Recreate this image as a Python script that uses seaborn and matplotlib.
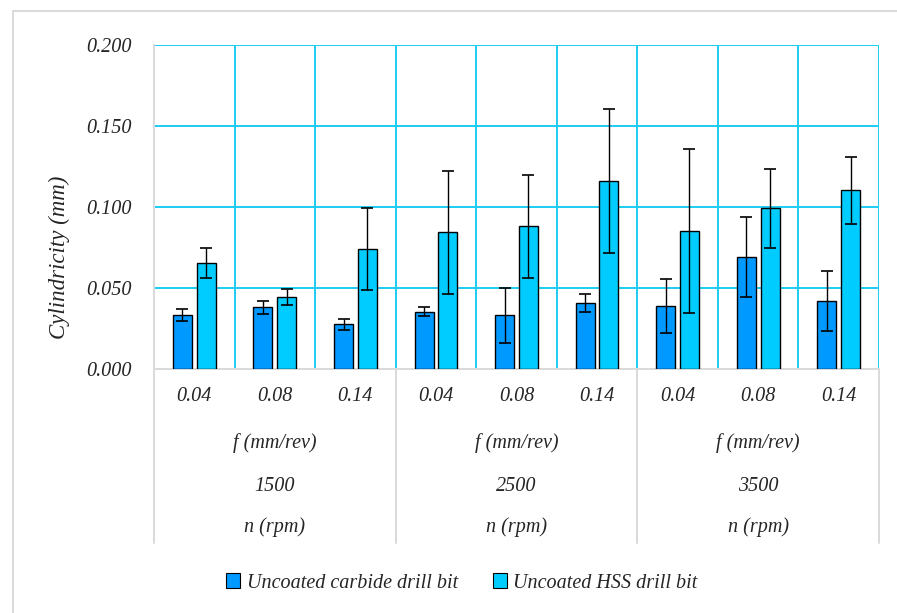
import matplotlib
matplotlib.use("Agg")
import matplotlib.pyplot as plt
import matplotlib.transforms as mtransforms
from matplotlib.patches import Patch
from matplotlib.lines import Line2D
import numpy as np
import pandas as pd
import seaborn as sns

# Spindle speed n (rpm) and feed f (mm/rev) for each test condition
speeds = ["1500", "2500", "3500"]
feeds = ["0.04", "0.08", "0.14"]

# Mean cylindricity (mm) and standard deviation per drill type
carbide = [0.0335, 0.0380, 0.0275, 0.0354, 0.0331, 0.0406, 0.0389, 0.0692, 0.0422]
carbide_err = [0.0037, 0.0038, 0.0036, 0.0027, 0.0169, 0.0057, 0.0165, 0.0247, 0.0186]
hss = [0.0652, 0.0446, 0.0738, 0.0843, 0.0880, 0.1160, 0.0850, 0.0992, 0.1103]
hss_err = [0.0093, 0.0050, 0.0253, 0.0377, 0.0318, 0.0447, 0.0507, 0.0243, 0.0207]

tools = ["Uncoated carbide drill bit", "Uncoated HSS drill bit"]
colors = ["#0099FF", "#00CCFF"]
grid_color = "#1CCCF4"
frame_color = "#D9D9D9"

conditions = [f"{n}|{f}" for n in speeds for f in feeds]
df = pd.DataFrame({
    "condition": conditions * 2,
    "tool": [tools[0]] * 9 + [tools[1]] * 9,
    "value": carbide + hss,
    "err": carbide_err + hss_err,
})

sns.set_theme(style="white")
plt.rcParams["font.family"] = ["Liberation Serif", "DejaVu Serif"]
plt.rcParams["font.style"] = "italic"

fs = 14.5

fig = plt.figure(figsize=(8.97, 6.13), dpi=100)
ax = fig.add_axes([154 / 897, 1 - 369 / 613, (879 - 154) / 897, (369 - 45) / 613])

sns.barplot(data=df, x="condition", y="value", hue="tool", order=conditions,
            hue_order=tools, palette=colors, width=0.59, gap=0.2,
            errorbar=None, edgecolor="black", linewidth=1.0, legend=False,
            saturation=1, ax=ax, zorder=3)

# Error bars centred on each drawn bar
for cont, errs in zip(ax.containers, [carbide_err, hss_err]):
    xs = [p.get_x() + p.get_width() / 2 for p in cont.patches]
    ys = [p.get_height() for p in cont.patches]
    ax.errorbar(xs, ys, yerr=errs, fmt="none", ecolor="black",
                elinewidth=1.0, capsize=4.5, capthick=1.2, zorder=4)

ax.set_xlim(-0.5, 8.5)
ax.set_ylim(0, 0.2)
yt = np.arange(0, 0.201, 0.05)
ax.set_yticks(yt)
ax.set_yticklabels([f"{v:.3f}" for v in yt], fontsize=fs)
ax.set_ylabel("Cylindricity (mm)", fontsize=16.5)
ax.yaxis.set_label_coords(-0.116, 0.346)
ax.set_xlabel("")

# Gridlines: horizontal at y ticks, vertical at category boundaries
for y in yt[1:]:
    ax.axhline(y, color=grid_color, lw=1.4, zorder=1)
for xb in np.arange(0.5, 8.6, 1.0):
    ax.axvline(xb, color=grid_color, lw=1.4, zorder=1)

for side in ["top", "right"]:
    ax.spines[side].set_visible(False)
for side in ["left", "bottom"]:
    ax.spines[side].set_color(frame_color)
    ax.spines[side].set_linewidth(1.4)

ax.set_xticks(range(9))
ax.set_xticklabels(feeds * 3, fontsize=fs)
ax.tick_params(axis="x", length=0, pad=13)
ax.tick_params(axis="y", length=0, pad=16)

# Multi-level category labels below the axis
trans = mtransforms.blended_transform_factory(ax.transData, ax.transAxes)
for i, n in enumerate(speeds):
    cx = 3 * i + 1
    ax.text(cx, -0.228, "f (mm/rev)", transform=trans, ha="center", va="center", fontsize=fs)
    ax.text(cx, -0.364, n, transform=trans, ha="center", va="center", fontsize=fs)
    ax.text(cx, -0.488, "n (rpm)", transform=trans, ha="center", va="center", fontsize=fs)
for xb in [-0.5, 2.5, 5.5, 8.5]:
    ax.plot([xb, xb], [0, -0.537], transform=trans, color=frame_color, lw=1.4, clip_on=False)

# Outer chart frame (left and top edges)
fx, fy = 13 / 897, 1 - 11 / 613
fig.add_artist(Line2D([fx, fx, 1.0], [0.0, fy, fy], transform=fig.transFigure,
                      color=frame_color, lw=1.4))

handles = [Patch(facecolor=c, edgecolor="black", lw=0.8) for c in colors]
fig.legend(handles, tools, loc="center", bbox_to_anchor=(0.515, 1 - 583 / 613),
           ncol=2, frameon=False, fontsize=fs, handlelength=0.7, handleheight=0.7,
           handletextpad=0.3, columnspacing=1.75)

fig.savefig("out.png", dpi=100)
